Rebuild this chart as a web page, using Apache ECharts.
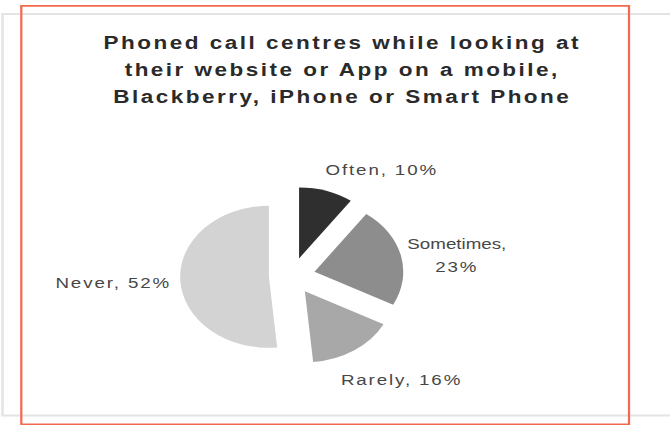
<!DOCTYPE html>
<html>
<head>
<meta charset="utf-8">
<script src="https://cdn.jsdelivr.net/npm/echarts@6/dist/echarts.min.js"></script>
<style>
  html, body { margin: 0; padding: 0; background: #ffffff; overflow: hidden; }
  /* the chart is laid out narrow and widened, giving the oval pie and wide lettering */
  #chart { height: 425px; transform-origin: 0 0; }
  #chart svg text { letter-spacing: 1.5px; }
  #chart svg text[style*="bold"] { letter-spacing: 2px; }
  #chart svg text[style*="Arimo"] { letter-spacing: 0; }
</style>
</head>
<body>
<div id="chart"></div>
<script>
// Survey answers and their shares (%)
const categories = ['Often', 'Sometimes', 'Rarely', 'Never'];
const percentages = [10, 23, 16, 52];
const titleLines = [
  'Phoned call centres while looking at',
  'their website or App on a mobile,',
  'Blackberry, iPhone or Smart Phone'
];

const PAGE_W = 670;
const STRETCH = 1.25;           // horizontal widening of the whole drawing
const LAYOUT_W = PAGE_W / STRETCH;
const sx = v => v / STRETCH;    // page x -> layout x

const el = document.getElementById('chart');
el.style.width = LAYOUT_W + 'px';
el.style.transform = 'scaleX(' + STRETCH + ')';

const sliceColors = ['#2f2f2f', '#8d8d8d', '#a8a8a8', '#d3d3d3'];
// nudges (page px) from the default outside label spot
const labelNudgeX = [6, -6, -7, -4.5];
const labelNudgeY = [-6.5, 3.5, 17.5, 2];
const wrapAfterName = ['Sometimes'];

const FONT = 'Liberation Sans, Arial, sans-serif';
const chart = echarts.init(el, null, { renderer: 'svg' });

chart.setOption({
  animation: false,
  backgroundColor: '#ffffff',
  title: {
    text: titleLines.join('\n'),
    left: sx(336),
    top: 24,
    textAlign: 'center',
    textStyle: {
      fontFamily: FONT,
      fontWeight: 'bold',
      fontSize: 18,
      lineHeight: 27,
      color: '#2a2a2a'
    }
  },
  graphic: [
    {
      type: 'rect', z: 0, silent: true,
      shape: { x: sx(2.5), y: 14, width: sx(700), height: 401.5 },
      style: { fill: 'none', stroke: '#e4e4e4', lineWidth: 2 }
    },
    {
      type: 'rect', z: 100, silent: true,
      shape: { x: sx(21.3), y: 5.8, width: sx(629 - 21.3), height: 418.5 },
      style: { fill: 'none', stroke: '#f26a50', lineWidth: 1.8 }
    }
  ],
  series: [{
    type: 'pie',
    center: [sx(292), 276],
    radius: 71,
    startAngle: 90,
    clockwise: true,
    selectedMode: 'multiple',
    selectedOffset: 18.5,
    avoidLabelOverlap: false,
    emphasis: { disabled: true },
    itemStyle: { borderWidth: 0 },
    label: {
      show: true,
      position: 'outside',
      fontFamily: FONT,
      fontSize: 15,
      lineHeight: 23,
      color: '#474747',
      formatter: p => wrapAfterName.includes(p.name)
        ? '{tight|' + p.name + ',}\n' + p.value + '%'
        : p.name + ', ' + p.value + '%',
      rich: {
        tight: {
          fontFamily: 'Liberation Sans, Arimo, sans-serif',
          fontSize: 15,
          lineHeight: 23,
          color: '#474747'
        }
      }
    },
    labelLine: { show: false },
    labelLayout: p => ({
      dx: sx(labelNudgeX[p.dataIndex]),
      dy: labelNudgeY[p.dataIndex],
      align: 'center',
      verticalAlign: 'middle'
    }),
    data: categories.map((name, i) => ({
      name: name,
      value: percentages[i],
      selected: true,
      itemStyle: { color: sliceColors[i] },
      select: { itemStyle: { color: sliceColors[i] } }
    }))
  }]
});
</script>
</body>
</html>
